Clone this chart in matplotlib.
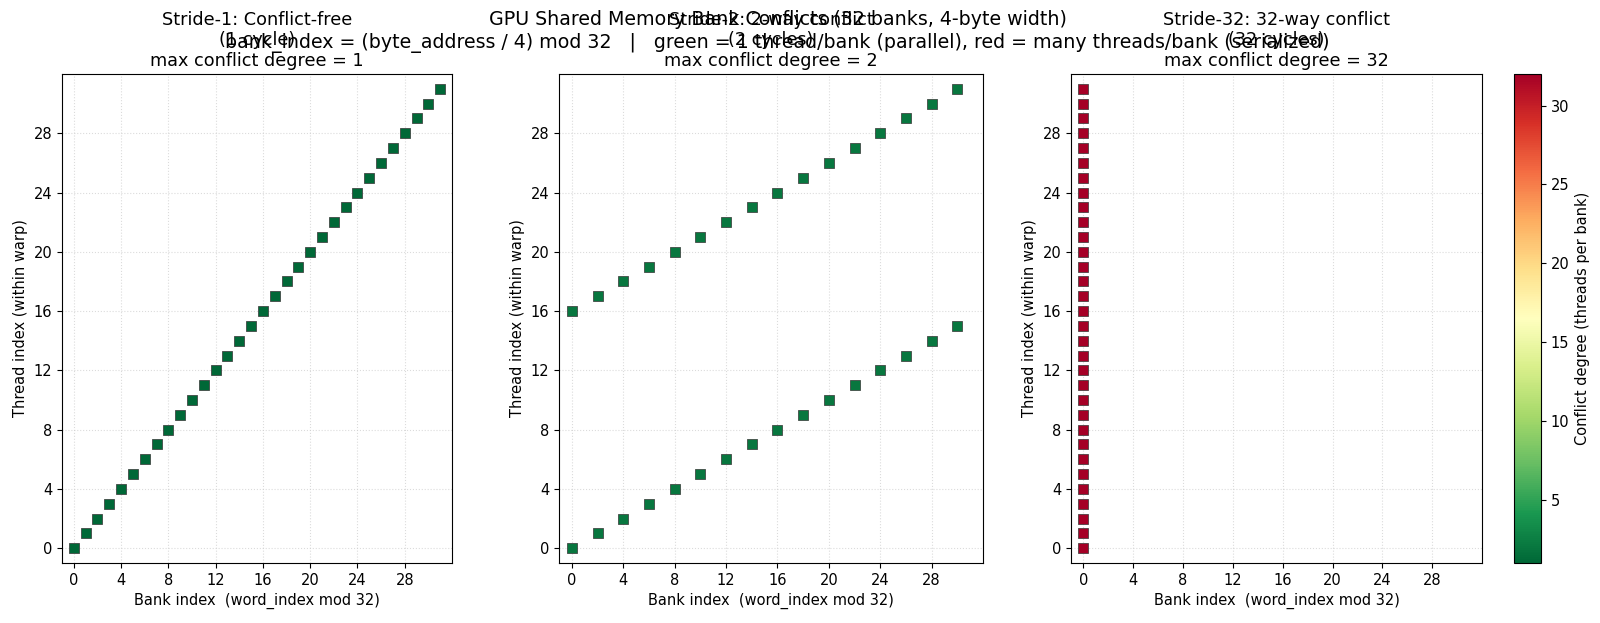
import matplotlib
matplotlib.use("Agg")
import matplotlib.pyplot as plt
from matplotlib.colors import Normalize

threads = list(range(32))

banks_stride1 = [0, 1, 2, 3, 4, 5, 6, 7, 8, 9, 10, 11, 12, 13, 14, 15,
                 16, 17, 18, 19, 20, 21, 22, 23, 24, 25, 26, 27, 28, 29, 30, 31]
banks_stride2 = [0, 2, 4, 6, 8, 10, 12, 14, 16, 18, 20, 22, 24, 26, 28, 30,
                 0, 2, 4, 6, 8, 10, 12, 14, 16, 18, 20, 22, 24, 26, 28, 30]
banks_stride32 = [0] * 32

degree_stride1 = [1] * 32
degree_stride2 = [2] * 32
degree_stride32 = [32] * 32

titles = [
    "Stride-1: Conflict-free\n(1 cycle)\nmax conflict degree = 1",
    "Stride-2: 2-way conflict\n(2 cycles)\nmax conflict degree = 2",
    "Stride-32: 32-way conflict\n(32 cycles)\nmax conflict degree = 32",
]

panels = [
    (banks_stride1, degree_stride1),
    (banks_stride2, degree_stride2),
    (banks_stride32, degree_stride32),
]

W, H = 1600, 623
fig = plt.figure(figsize=(16, 6.23), dpi=100)

def box(l, r, t, b):
    return [l / W, 1 - b / H, (r - l) / W, (b - t) / H]

axes_px = [(62, 452), (559, 983), (1071, 1482)]
top, bottom = 74, 563
norm = Normalize(vmin=1, vmax=32)
cmap = plt.get_cmap("RdYlGn_r")

sc = None
for (l, r), (banks, deg), title in zip(axes_px, panels, titles):
    ax = fig.add_axes(box(l, r, top, bottom))
    sc = ax.scatter(banks, threads, c=deg, cmap=cmap, norm=norm, marker="s",
                    s=52, edgecolors="#333333", linewidths=0.5, zorder=3)
    ax.set_xlim(-1, 32)
    ax.set_ylim(-1, 32)
    ax.set_xticks(range(0, 32, 4))
    ax.set_yticks(range(0, 32, 4))
    ax.tick_params(labelsize=10.5)
    ax.grid(True, linestyle=":", color="#cccccc", linewidth=0.8, alpha=0.7)
    ax.set_axisbelow(True)
    ax.set_xlabel("Bank index  (word_index mod 32)", fontsize=10.5)
    ax.set_ylabel("Thread index (within warp)", fontsize=10.5)
    ax.set_title(title, fontsize=12.7, linespacing=1.17)

cax = fig.add_axes(box(1514, 1541, top, bottom))
cb = fig.colorbar(sc, cax=cax)
cb.set_label("Conflict degree (threads per bank)", fontsize=10.5)
cb.ax.tick_params(labelsize=10.5)

fig.suptitle("GPU Shared Memory Bank Conflicts (32 banks, 4-byte width)\n"
             "bank_index = (byte_address / 4) mod 32   |   green = 1 thread/bank (parallel), "
             "red = many threads/bank (serialized)",
             fontsize=13.7, x=0.486, y=0.984, linespacing=1.24)

fig.savefig("out.png", dpi=100)
